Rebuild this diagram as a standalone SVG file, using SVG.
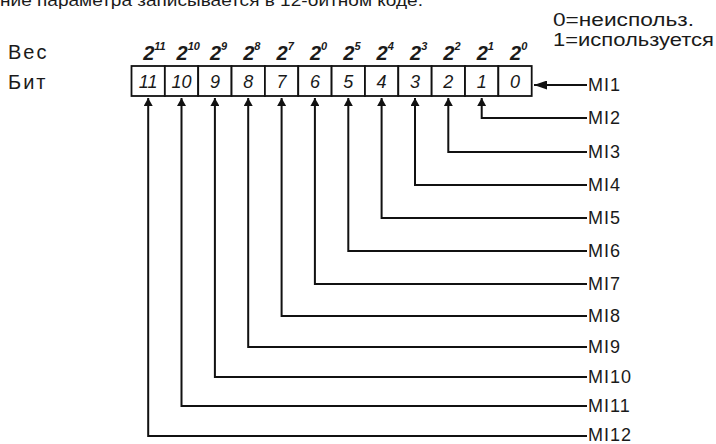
<svg xmlns="http://www.w3.org/2000/svg" width="716" height="444" viewBox="0 0 716 444">
<defs>
<marker id="ah" viewBox="0 0 10 10" refX="10" refY="5" markerWidth="8" markerHeight="9" markerUnits="userSpaceOnUse" orient="auto" preserveAspectRatio="none">
<path d="M0,0 L10,5 L0,10 z" fill="#111"/>
</marker>
<marker id="ah1" viewBox="0 0 10 10" refX="10" refY="5" markerWidth="13" markerHeight="9" markerUnits="userSpaceOnUse" orient="auto" preserveAspectRatio="none">
<path d="M0,0 L10,5 L0,10 z" fill="#111"/>
</marker>
<style>
text{font-family:"Liberation Sans",Arial,sans-serif;fill:#1a1a1a}
.lbl{font-size:18px;letter-spacing:1px}
.side{font-size:20px;letter-spacing:2px}
.w{font-size:20px;font-weight:bold;font-style:italic}
.sup{font-size:11px;font-weight:bold;font-style:italic}
.d{font-size:18px;font-style:italic;text-anchor:middle}
.cell{fill:#fff;stroke:#111;stroke-width:1.8}
.con{fill:none;stroke:#111;stroke-width:2}
</style>
</defs>
<rect width="716" height="444" fill="#fff"/>
<text x="0" y="6" font-size="17" textLength="423" lengthAdjust="spacingAndGlyphs">ние параметра записывается в 12-битном коде.</text>
<g id="legend">
<text x="553" y="26" font-size="18" textLength="141" lengthAdjust="spacingAndGlyphs">0=неиспольз.</text>
<text x="553" y="46" font-size="18" textLength="161" lengthAdjust="spacingAndGlyphs">1=используется</text>
</g>
<g id="side-labels">
<text class="side" x="8" y="59">Вес</text>
<text class="side" x="8" y="89">Бит</text>
</g>
<g id="weights">
<text class="w" x="143.2" y="60">2<tspan class="sup" dy="-10">11</tspan></text>
<text class="w" x="176.5" y="60">2<tspan class="sup" dy="-10">10</tspan></text>
<text class="w" x="209.9" y="60">2<tspan class="sup" dy="-10">9</tspan></text>
<text class="w" x="243.2" y="60">2<tspan class="sup" dy="-10">8</tspan></text>
<text class="w" x="276.6" y="60">2<tspan class="sup" dy="-10">7</tspan></text>
<text class="w" x="309.9" y="60">2<tspan class="sup" dy="-10">0</tspan></text>
<text class="w" x="343.3" y="60">2<tspan class="sup" dy="-10">5</tspan></text>
<text class="w" x="376.6" y="60">2<tspan class="sup" dy="-10">4</tspan></text>
<text class="w" x="410" y="60">2<tspan class="sup" dy="-10">3</tspan></text>
<text class="w" x="443.3" y="60">2<tspan class="sup" dy="-10">2</tspan></text>
<text class="w" x="476.7" y="60">2<tspan class="sup" dy="-10">1</tspan></text>
<text class="w" x="510" y="60">2<tspan class="sup" dy="-10">0</tspan></text>
</g>
<g id="register">
<g id="bit11"><rect class="cell" x="131.5" y="66" width="33.35" height="30"/><text class="d" x="148.2" y="88">11</text></g>
<g id="bit10"><rect class="cell" x="164.85" y="66" width="33.35" height="30"/><text class="d" x="181.5" y="88">10</text></g>
<g id="bit9"><rect class="cell" x="198.2" y="66" width="33.35" height="30"/><text class="d" x="214.9" y="88">9</text></g>
<g id="bit8"><rect class="cell" x="231.55" y="66" width="33.35" height="30"/><text class="d" x="248.2" y="88">8</text></g>
<g id="bit7"><rect class="cell" x="264.9" y="66" width="33.35" height="30"/><text class="d" x="281.6" y="88">7</text></g>
<g id="bit6"><rect class="cell" x="298.25" y="66" width="33.35" height="30"/><text class="d" x="314.9" y="88">6</text></g>
<g id="bit5"><rect class="cell" x="331.6" y="66" width="33.35" height="30"/><text class="d" x="348.3" y="88">5</text></g>
<g id="bit4"><rect class="cell" x="364.95" y="66" width="33.35" height="30"/><text class="d" x="381.6" y="88">4</text></g>
<g id="bit3"><rect class="cell" x="398.3" y="66" width="33.35" height="30"/><text class="d" x="415" y="88">3</text></g>
<g id="bit2"><rect class="cell" x="431.65" y="66" width="33.35" height="30"/><text class="d" x="448.3" y="88">2</text></g>
<g id="bit1"><rect class="cell" x="465" y="66" width="33.35" height="30"/><text class="d" x="481.7" y="88">1</text></g>
<g id="bit0"><rect class="cell" x="498.35" y="66" width="33.35" height="30"/><text class="d" x="515" y="88">0</text></g>
</g>
<g id="connectors">
<path class="con" d="M587,85 H534" marker-end="url(#ah1)"/>
<path class="con" d="M587,118 H481.7 V98" marker-end="url(#ah)"/>
<path class="con" d="M587,152 H448.3 V98" marker-end="url(#ah)"/>
<path class="con" d="M587,185 H415 V98" marker-end="url(#ah)"/>
<path class="con" d="M587,218 H381.6 V98" marker-end="url(#ah)"/>
<path class="con" d="M587,251 H348.3 V98" marker-end="url(#ah)"/>
<path class="con" d="M587,284 H314.9 V98" marker-end="url(#ah)"/>
<path class="con" d="M587,316 H281.6 V98" marker-end="url(#ah)"/>
<path class="con" d="M587,347 H248.2 V98" marker-end="url(#ah)"/>
<path class="con" d="M587,377 H214.9 V98" marker-end="url(#ah)"/>
<path class="con" d="M587,406 H181.5 V98" marker-end="url(#ah)"/>
<path class="con" d="M587,436 H148.2 V98" marker-end="url(#ah)"/>
</g>
<g id="inputs">
<text class="lbl" x="588" y="91">MI1</text>
<text class="lbl" x="588" y="124">MI2</text>
<text class="lbl" x="588" y="158">MI3</text>
<text class="lbl" x="588" y="191">MI4</text>
<text class="lbl" x="588" y="224">MI5</text>
<text class="lbl" x="588" y="257">MI6</text>
<text class="lbl" x="588" y="290">MI7</text>
<text class="lbl" x="588" y="322">MI8</text>
<text class="lbl" x="588" y="353">MI9</text>
<text class="lbl" x="588" y="383">MI10</text>
<text class="lbl" x="588" y="412">MI11</text>
<text class="lbl" x="588" y="441">MI12</text>
</g>
</svg>
